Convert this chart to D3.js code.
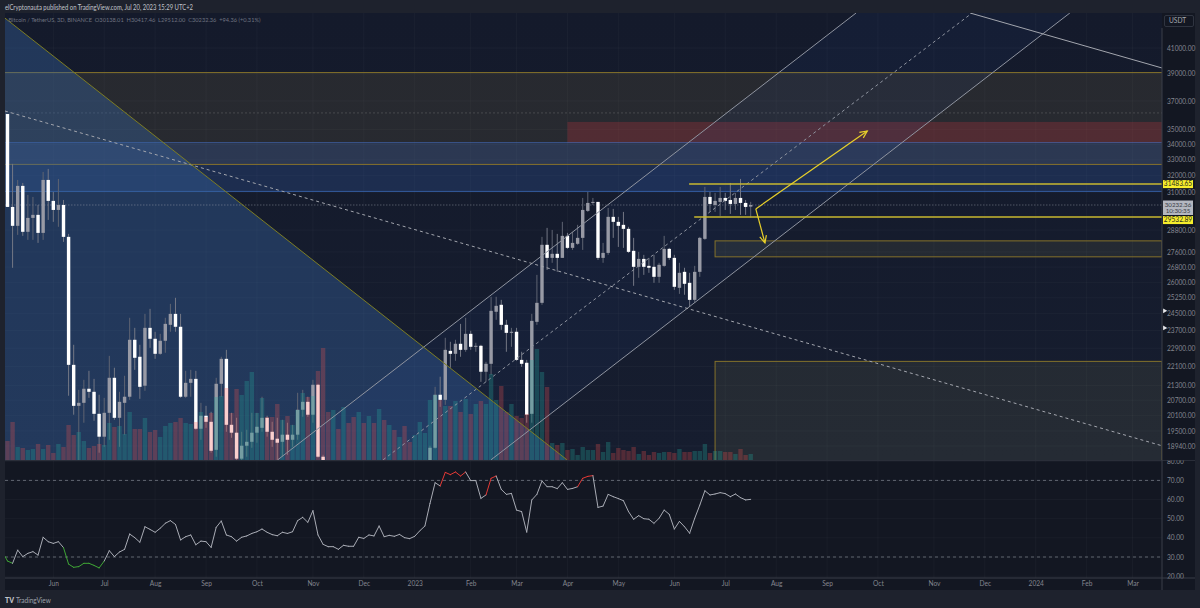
<!DOCTYPE html>
<html><head><meta charset="utf-8">
<script src="https://cdn.jsdelivr.net/npm/d3@7"></script>
<style>html,body{margin:0;padding:0;background:#1e222d;overflow:hidden}svg{display:block}text{font-family:"Lato","Noto Sans",sans-serif}</style>
</head><body><svg id="c" width="1200" height="608"></svg>
<script>
const opens=[36070,30120,29035,31375,28700,29485,29660,28640,31740,30475,
29945,30235,28420,22170,20475,20595,21165,21040,20160,19285,
20200,21620,20005,20595,20840,23275,22520,21290,23820,23320,
22650,23230,23960,24475,23870,20840,21410,21575,19585,20085,
19850,18800,21370,22430,19735,19435,18480,18950,19095,19435,
19620,20005,19470,19210,19095,19360,19170,19360,20320,20635,
20125,21330,18550,17600,16600,16800,16400,16700,16500,16200,
16600,16450,17100,16900,17200,16750,16830,16550,16700,16500,
16450,16800,17100,17950,18875,20920,20715,22780,22650,23095,
22825,23545,22960,23005,21875,22215,24575,24910,23960,23590,
23640,22385,22260,20160,24100,25005,27985,27285,27500,27285,
28475,27820,28040,28365,29890,30355,30415,27285,27550,29545,
29260,29090,28865,27660,26815,27230,26865,26815,26300,26865,
27765,27285,25745,26555,25995,25150,26555,28310,30710,30235,
30415,30650,30530,30295,30650,30355,30138];
const highs=[36070,32745,31740,31555,30830,30710,30235,32235,32425,31010,
31800,30530,28585,23050,21120,21535,21915,21575,20920,20795,
22560,22045,21040,21705,24290,23820,23050,24475,24715,23640,
23545,24290,24955,25250,24475,21915,21955,21915,20595,20475,
20240,21620,22520,22825,20200,20005,19470,19545,20200,20200,
20840,20085,19850,20005,19930,19815,19735,21000,21120,20840,
21535,21370,18620,17900,17100,17000,16900,16900,16600,16800,
16800,17200,17300,17400,17250,16900,16950,16800,16800,16700,
16850,17200,18000,18950,21245,21665,23365,23185,23275,24005,
24290,23685,23140,23050,22300,25300,25300,25150,24195,23820,
23820,22740,22385,24475,26400,28420,28920,28805,28585,29260,
28640,28695,29090,30650,31010,30650,30415,28090,30060,30005,
29545,29830,28980,28365,27605,27445,27285,27445,27025,28475,
27820,27445,27025,26765,26505,26865,28420,31315,31010,30950,
31315,30950,31555,30950,31800,30530,30417];
const lows=[30120,26765,28530,28475,28255,28255,28090,28255,29370,29260,
28980,28145,20880,20125,17700,19815,20795,19890,18695,18910,
19170,19930,18910,19360,20715,21955,20755,21080,22915,22430,
22605,22695,23640,23640,20795,20795,20840,19545,19170,19620,
18695,18550,20840,19470,19245,18400,18370,18550,18875,19060,
19470,19285,18910,18200,18550,18620,18910,19170,20045,20045,
19815,18515,15700,16300,16200,16200,16300,16400,15500,16000,
16400,16400,16800,16700,16500,16600,16400,16450,16300,16300,
16400,16700,17000,17900,18840,20435,20515,22045,22345,22520,
22740,22825,22740,21450,21450,21745,24195,23730,22740,22960,
22345,22085,19815,19815,23960,24910,26655,27025,26555,27285,
27765,27710,27985,27710,29830,30235,27180,27025,27445,28365,
27870,27820,27550,25845,26250,26400,26505,25995,25995,26815,
27180,25645,25445,25400,24810,25005,26300,28255,29830,29830,
29600,29945,29715,29945,29660,29660,29512];
const closes=[30120,29035,31375,28700,29485,29660,28640,31740,30475,29945,
30235,28420,22170,20475,20595,21165,21040,20160,19285,20200,
21620,20005,20635,20840,23275,22475,21245,23820,23320,22650,
23230,24005,24475,23870,20840,21410,21575,19585,20085,19850,
18765,21370,22430,19735,19435,18480,18950,19095,19435,19660,
20005,19470,19170,19060,19360,19170,19360,20320,20635,20125,
21330,18550,17600,16600,16800,16400,16700,16500,16200,16600,
16450,17100,16900,17200,16750,16830,16550,16700,16500,16450,
16800,17100,17950,18875,20920,20715,22825,22650,23095,22825,
23545,22960,23005,21875,22215,24620,24860,23960,23590,23640,
22385,22215,20125,24145,25005,27985,27285,27500,27285,28475,
27820,28090,28365,29945,30355,30415,27285,27550,29545,29260,
29035,28865,27605,26815,27230,26815,26765,26300,26920,27765,
27285,25795,26505,25945,25150,26555,28365,30710,30295,30475,
30650,30475,30295,30650,30355,30120,30232];
const volumes=[190,380,130,120,100,110,160,110,150,70,
160,130,350,250,280,190,120,140,160,150,
370,330,340,260,480,310,310,420,280,300,
230,340,370,380,420,370,360,380,480,430,
470,630,640,720,470,710,650,790,880,470,
620,430,430,560,400,440,350,500,670,630,
640,890,1120,480,500,310,530,370,430,480,
370,440,370,510,400,350,300,230,340,180,
250,380,270,600,650,600,540,540,590,480,
610,460,560,590,560,860,600,740,480,560,
440,420,460,1000,1110,880,730,170,150,170,
100,110,50,130,100,100,160,80,180,70,
120,100,90,130,60,90,50,80,70,80,
80,70,110,80,80,90,90,160,70,90,
90,80,80,60,110,50,60];
// RSI: first value belongs to the bar before the first visible candle
const rsi=[32.8,27.9,26.7,33.6,30.2,31.9,32.8,31.0,40.3,38.0,37.1,
38.0,34.9,26.3,24.6,25.0,26.7,26.7,25.6,24.3,27.9,
33.3,30.2,32.6,34.0,42.0,40.1,37.7,45.8,44.4,42.9,
45.0,47.6,49.0,47.0,38.9,40.6,41.5,36.4,38.3,38.0,
35.0,45.5,48.8,41.5,40.6,38.3,40.3,41.0,42.3,43.2,
44.6,42.9,41.7,41.1,42.9,42.3,43.2,49.0,50.7,48.1,
54.2,41.5,36.6,35.4,35.4,34.0,36.1,35.6,35.6,40.3,
39.7,41.5,41.0,46.2,40.6,41.3,40.8,41.8,40.1,39.6,
40.8,43.7,46.2,58.0,68.8,67.1,74.2,73.0,74.4,72.3,
74.4,69.9,69.9,60.6,62.4,71.1,72.3,65.3,62.7,63.2,
54.5,53.7,43.0,59.8,62.7,69.7,66.7,66.7,65.7,68.8,
65.3,65.8,66.7,71.1,72.1,72.5,55.9,56.6,62.7,61.5,
60.5,59.4,53.7,49.7,51.6,50.0,49.7,47.6,50.2,54.5,
52.3,44.6,48.6,45.8,42.4,50.2,57.1,64.6,62.4,62.9,
63.6,63.1,61.5,62.9,61.0,59.8,60.1];
const priceTicks=[41000,39000,37000,35000,34000,33000,32000,31000,28800,27600,26800,26000,25250,24500,23700,22900,22100,21300,20700,20100,19500,18940];
const rsiTicks=[80,70,60,50,40,30,20];
const monthBars=[9,19,29,39,49,60,70,80,91,100,110,120,131,141,151,161,171,182,192,202,212,221];
const monthLabels=["Jun","Jul","Aug","Sep","Oct","Nov","Dec","2023","Feb","Mar","Apr","May","Jun","Jul","Aug","Sep","Oct","Nov","Dec","2024","Feb","Mar"];
// drawings: [bar, price] anchors
const wedgeLine=[[-0.5,43450],[109.9,18441]];
const channelUpper=[[53.1,18441],[166.7,43880]];
const channelMid=[[73.8,18441],[189.5,43880]];
const channelLower=[[95.0,18441],[208.7,43880]];
const fallingLine=[[189.1,43880],[226.8,39440]];
const fallingDashed=[[-0.5,36283],[226.8,18948]];
const arrowUp=[[147.0,30004],[168.9,34903]];
const arrowDown=[[147.0,30004],[148.8,28087]];
const lastPrice=30232.36;
const lastLabel=["30232.36","10:30:35"];
const levels=[{bar:133.9,price:31483.65,label:"31483.65",shift:0},{bar:134.9,price:29532.89,label:"29532.89",shift:3}];
const grayZone=[39090,32710,36145];
const blueZone=[34130,31040];
const redZone=[110,35520,34100];
const lowZone=[139,28200,27340];
const bigZone=[139,22320,18000];
const rsiLevels=[70,30];
const title="elCryptonauta published on TradingView.com, Jul 20, 2023 15:29 UTC+2";
const legend="Bitcoin / TetherUS, 3D, BINANCE  O30138.01  H30417.46  L29512.00  C30232.36  +94.36 (+0.31%)";

const L=5,R=1162,T=13,B=460,RT=460.5,RB=578,AX=1195,XB=590;
const svg=d3.select("#c");
const x=d3.scaleLinear().domain([0,146]).range([7.5,750.7]);
const y=d3.scaleLog().domain([41000,18940]).range([48,446]);
const yR=d3.scaleLinear().domain([70,30]).range([480.4,557]);
const yV=d3.scaleLinear().domain([0,4000]).range([B,60]);
const first=x.invert(L);
const defs=svg.append("defs");
defs.append("clipPath").attr("id","cp").append("rect").attr("x",L).attr("y",T).attr("width",R-L).attr("height",B-T);
defs.append("clipPath").attr("id","cr").append("rect").attr("x",L).attr("y",RT).attr("width",R-L).attr("height",RB-RT);
defs.append("clipPath").attr("id","ca").append("rect").attr("x",R).attr("y",B+0.5).attr("width",AX-R).attr("height",RB-B);
const grad=defs.append("linearGradient").attr("id","bg").attr("x1",0).attr("y1",0).attr("x2",0).attr("y2",1);
grad.append("stop").attr("offset",0).attr("stop-color","#141a2b");
grad.append("stop").attr("offset",1).attr("stop-color","#161d2f");

svg.append("rect").attr("x",L).attr("y",T).attr("width",AX-L).attr("height",XB-T).attr("fill","#131722");
svg.append("rect").attr("x",L).attr("y",T).attr("width",R-L).attr("height",B-T).attr("fill","url(#bg)");

const grid=svg.append("g").attr("stroke","rgba(255,255,255,0.03)").attr("stroke-width",1);
grid.selectAll("line.v").data(monthBars).join("line").attr("x1",d=>x(d)).attr("x2",d=>x(d)).attr("y1",T).attr("y2",RB);
grid.selectAll("line.h").data(priceTicks).join("line").attr("x1",L).attr("x2",R).attr("y1",d=>y(d)).attr("y2",d=>y(d));
grid.selectAll("line.r").data(rsiTicks).join("line").attr("x1",L).attr("x2",R).attr("y1",d=>yR(d)).attr("y2",d=>yR(d));

const plot=svg.append("g").attr("clip-path","url(#cp)");
const zoneLine="#85722b";
const ln=d3.line().x(d=>x(d[0])).y(d=>y(d[1]));
function box(g,x0,p0,p1,fill){return g.append("rect").attr("x",x0).attr("y",y(p0)).attr("width",R-x0).attr("height",y(p1)-y(p0)).attr("fill",fill);}
function hl(g,x0,p,col,w,dash){return g.append("line").attr("x1",x0).attr("x2",R).attr("y1",y(p)).attr("y2",y(p)).attr("stroke",col).attr("stroke-width",w).attr("stroke-dasharray",dash||null);}

box(plot,L,grayZone[0],grayZone[1],"rgba(135,116,72,0.17)");
box(plot,x(redZone[0]),redZone[1],redZone[2],"rgba(190,50,60,0.28)");
box(plot,L,blueZone[0],blueZone[1],"rgba(54,101,182,0.25)");
hl(plot,L,blueZone[0],"rgba(70,110,190,0.55)",1);
hl(plot,L,blueZone[1],"rgba(60,110,190,0.75)",1);
hl(plot,L,grayZone[0],zoneLine,1);
hl(plot,L,grayZone[1],zoneLine,1);
hl(plot,L,grayZone[2],"rgba(150,150,150,0.3)",1,"2,2");
plot.append("path").attr("d",ln([wedgeLine[0],wedgeLine[1],[first,15000]])).attr("fill","rgba(54,101,161,0.4)");
plot.append("path").attr("d",ln([channelUpper[0],channelUpper[1],channelLower[1],channelLower[0]])).attr("fill","rgba(50,100,220,0.06)");
[lowZone,bigZone].forEach(z=>{
  box(plot,x(z[0]),z[1],z[2],"rgba(150,150,90,0.12)").attr("stroke",zoneLine).attr("stroke-width",1);
});
hl(plot,L,lastPrice,"rgba(170,175,185,0.4)",1,"1.5,1.5");

const bars=d3.range(opens.length);
plot.append("g").selectAll("line").data(bars).join("line")
  .attr("x1",i=>x(i)).attr("x2",i=>x(i)).attr("y1",i=>y(highs[i])).attr("y2",i=>y(lows[i]))
  .attr("stroke",i=>closes[i]>=opens[i]?"#5f6472":"#747885").attr("stroke-width",1);
plot.append("g").selectAll("rect").data(bars).join("rect")
  .attr("x",i=>x(i)-1.7).attr("width",3.4)
  .attr("y",i=>y(Math.max(opens[i],closes[i])))
  .attr("height",i=>Math.max(1,Math.abs(y(opens[i])-y(closes[i]))))
  .attr("fill",i=>closes[i]>=opens[i]?"#989aa5":"#ffffff");
plot.append("g").selectAll("rect").data(bars).join("rect")
  .attr("x",i=>x(i)-2.2).attr("width",4.4)
  .attr("y",i=>yV(volumes[i])).attr("height",i=>B-yV(volumes[i]))
  .attr("fill",i=>closes[i]>=opens[i]?"rgba(38,166,154,0.3)":"rgba(239,83,80,0.28)");

function pl(g,d,col,w,dash){return g.append("path").attr("d",ln(d)).attr("fill","none").attr("stroke",col).attr("stroke-width",w).attr("stroke-dasharray",dash||null);}
pl(plot,channelUpper,"#8f94a0",1);
pl(plot,channelLower,"#8f94a0",1);
pl(plot,channelMid,"#8f94a0",1,"3,3");
pl(plot,fallingLine,"#a3a6ae",1);
pl(plot,fallingDashed,"#a3a6ae",1,"3,3");
pl(plot,wedgeLine,"#7d7d24",1);
levels.forEach(l=>hl(plot,x(l.bar),l.price,"#c9b92f",1.5));
function arrow(d){
  pl(plot,d,"#e8d02a",1.2);
  const tx=x(d[1][0]),ty=y(d[1][1]),a=Math.atan2(ty-y(d[0][1]),tx-x(d[0][0]));
  const p=[a+2.7,a-2.7].map(t=>[tx+8*Math.cos(t),ty+8*Math.sin(t)]);
  plot.append("path").attr("d",d3.line()([p[0],[tx,ty],p[1]])).attr("fill","none").attr("stroke","#e8d02a").attr("stroke-width",1.2);
}
arrow(arrowUp);arrow(arrowDown);

const rp=svg.append("g").attr("clip-path","url(#cr)");
rsiLevels.forEach(v=>rp.append("line").attr("x1",L).attr("x2",R).attr("y1",yR(v)).attr("y2",yR(v)).attr("stroke","rgba(170,175,185,0.5)").attr("stroke-width",1).attr("stroke-dasharray","3,3"));
const rseg=d3.range(1,rsi.length);
rp.selectAll("line.s").data(rseg).join("line")
  .attr("x1",k=>x(k-2)).attr("x2",k=>x(k-1)).attr("y1",k=>yR(rsi[k-1])).attr("y2",k=>yR(rsi[k]))
  .attr("stroke",k=>rsi[k]>70?"#e53935":rsi[k]<30?"#3fa535":"#a9acb5").attr("stroke-width",1).attr("stroke-linecap","round");

const fr=svg.append("g").attr("stroke","#2a2e39").attr("stroke-width",1);
fr.append("line").attr("x1",L).attr("x2",AX).attr("y1",B+.5).attr("y2",B+.5);
fr.append("line").attr("x1",L).attr("x2",AX).attr("y1",RB).attr("y2",RB).attr("stroke","#3a3e49");
fr.append("line").attr("x1",R).attr("x2",R).attr("y1",28).attr("y2",XB).attr("stroke","#3a3e49");

const tc="#83868f";
function styleAxis(g){g.select(".domain").remove();g.selectAll(".tick line").remove();g.selectAll("text").attr("fill",tc).attr("font-size",6.6).attr("font-family",'"Lato","Noto Sans",sans-serif');}
svg.append("g").attr("transform",`translate(${R+2},0)`).call(d3.axisRight(y).tickValues(priceTicks).tickFormat(d3.format(".2f")).tickSize(0).tickPadding(3)).call(styleAxis);
svg.append("g").attr("clip-path","url(#ca)").append("g").attr("transform",`translate(${R+2},0)`).call(d3.axisRight(yR).tickValues(rsiTicks).tickFormat(d3.format(".2f")).tickSize(0).tickPadding(3)).call(styleAxis);
svg.append("g").attr("transform",`translate(0,${RB+1})`).call(d3.axisBottom(x).tickValues(monthBars).tickFormat((d,i)=>monthLabels[i]).tickSize(0).tickPadding(2.5)).call(styleAxis);

function tag(p,txt,shift){
  const py=y(p)+shift;
  svg.append("rect").attr("x",R+1).attr("y",py-4).attr("width",30).attr("height",8).attr("fill","#f7ee2c");
  svg.append("text").attr("x",R+16).attr("y",py+2.3).attr("text-anchor","middle").attr("font-size",6.6).attr("fill","#2a2a20").text(txt);
}
const py=y(lastPrice);
svg.append("rect").attr("x",R+1).attr("y",py-4.5).attr("width",30).attr("height",14.5).attr("fill","#b4b7c0");
svg.selectAll("text.lt").data(lastLabel).join("text").attr("x",R+16).attr("y",(d,i)=>py+1.6+i*6.6).attr("text-anchor","middle").attr("font-size",6.2).attr("fill","#3a3d46").text(d=>d);
levels.forEach(l=>tag(l.price,l.label,l.shift));
[24500,23700].forEach(p=>svg.append("path").attr("d",d3.symbol(d3.symbolTriangle,10)()).attr("transform",`translate(${R+2.5},${y(p)-2.5}) rotate(90)`).attr("fill","#e6e7ea"));
svg.append("rect").attr("x",R+2.5).attr("y",15.5).attr("width",29).attr("height",11).attr("rx",1.5).attr("fill","none").attr("stroke","#2f3440");
svg.append("text").attr("x",R+7).attr("y",23.4).attr("font-size",6.6).attr("fill","#a6a9b1").text("USDT");

svg.append("text").attr("x",5).attr("y",9.8).attr("font-size",7).attr("textLength",188).attr("lengthAdjust","spacingAndGlyphs").attr("fill","#c2c5cc").text(title);
svg.append("text").attr("x",8.5).attr("y",22.3).attr("font-size",6.4).attr("textLength",252).attr("lengthAdjust","spacingAndGlyphs").attr("fill","#6f7380").attr("xml:space","preserve").style("white-space","pre").text(legend);
svg.append("text").attr("x",16).attr("y",602.8).attr("font-size",7.4).attr("textLength",34.7).attr("lengthAdjust","spacingAndGlyphs").attr("fill","#9ea2ac").text("TradingView");
svg.append("text").attr("x",5).attr("y",602.8).attr("font-size",7).attr("font-weight",900).attr("textLength",9).attr("lengthAdjust","spacingAndGlyphs").attr("fill","#c4c6cc").text("TV");
</script></body></html>
